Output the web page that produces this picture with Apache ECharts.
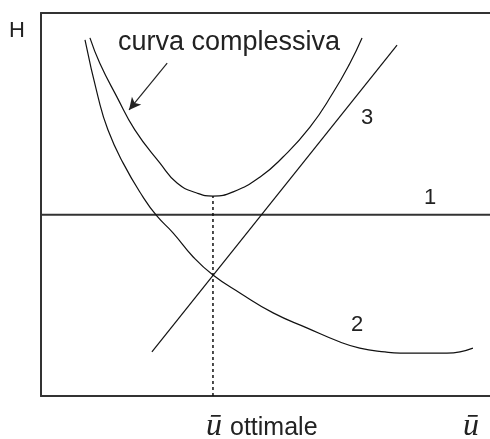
<!DOCTYPE html>
<html>
<head>
	<meta charset="utf-8" />
	<script src="https://cdn.jsdelivr.net/npm/echarts@6/dist/echarts.min.js"></script>
</head>
<body style="margin:0;background:#fff;">
	<div id="main" style="width: 490px;height:439px;"></div>

	<script type="text/javascript">
		// curva 2 (costo decrescente), in unita arbitrarie 0..100
		var curva2 = [[9.8, 93.0], [12.7, 78.1], [14.9, 69.5], [18.3, 60.8], [22.7, 52.0], [25.8, 47.0],
			[29.4, 42.6], [33.9, 36.3], [38.3, 31.6], [44.3, 26.9], [51.7, 21.7], [59.2, 17.8],
			[66.6, 14.1], [71.0, 12.5], [76.6, 11.5], [80.0, 11.2], [90.4, 11.2], [96.2, 12.5]];
		// curva complessiva (a U)
		var complessiva = [[10.9, 93.5], [13.1, 86.9], [16.9, 78.1], [20.9, 69.5], [26.5, 60.8],
			[30.3, 55.6], [34.7, 53.0], [38.3, 52.2], [42.8, 53.3], [48.8, 57.2], [53.9, 62.4],
			[59.9, 70.2], [65.0, 79.1], [68.8, 86.9], [71.5, 93.5]];
		// retta 3
		var retta3 = [[24.7, 11.5], [79.3, 91.6]];
		// retta 1 (costante)
		var retta1 = [[0, 47.3], [100, 47.3]];
		// ottimo
		var uOttimale = 38.3;
		var hOttimo = 52.2;
		// freccia "curva complessiva"
		var freccia = [[28.1, 86.9], [19.6, 74.7]];

		var myChart = echarts.init(document.getElementById('main'));

		var lineCol = '#111';
		var frameCol = '#333';

		var option = {
			animation: false,
			grid: { left: 41, right: 0, top: 13, bottom: 43 },
			xAxis: [
				{
					type: 'value', min: 0, max: 100,
					axisLine: { show: true, onZero: false, lineStyle: { color: frameCol, width: 2 } },
					axisTick: { show: false }, axisLabel: { show: false }, splitLine: { show: false }
				},
				{
					type: 'value', position: 'top', min: 0, max: 100,
					axisLine: { show: true, onZero: false, lineStyle: { color: frameCol, width: 2 } },
					axisTick: { show: false }, axisLabel: { show: false }, splitLine: { show: false }
				}
			],
			yAxis: {
				type: 'value', min: 0, max: 100,
				axisLine: { show: true, onZero: false, lineStyle: { color: frameCol, width: 2 } },
				axisTick: { show: false }, axisLabel: { show: false }, splitLine: { show: false }
			},
			series: [
				{
					type: 'line', data: retta1, symbol: 'none',
					lineStyle: { color: '#333', width: 2 }
				},
				{
					type: 'line', data: curva2, symbol: 'none', smooth: 0.5,
					lineStyle: { color: lineCol, width: 1.2 }
				},
				{
					type: 'line', data: complessiva, symbol: 'none', smooth: 0.5,
					lineStyle: { color: lineCol, width: 1.2 },
					markLine: {
						silent: true, animation: false,
						symbol: ['none', 'arrow'], symbolSize: [9, 12],
						label: { show: false },
						lineStyle: { color: '#222', width: 1.2, type: 'solid' },
						data: [[{ coord: freccia[0] }, { coord: freccia[1] }]]
					}
				},
				{
					type: 'line', data: retta3, symbol: 'none',
					lineStyle: { color: lineCol, width: 1.2 }
				},
				{
					type: 'line', data: [[uOttimale, 0], [uOttimale, hOttimo]], symbol: 'none',
					lineStyle: { color: lineCol, width: 1.5, type: [3, 3] }
				}
			],
			graphic: [
				{ type: 'text', x: 17, y: 31, style: { text: 'H', font: '22px "Liberation Sans", Arial', fill: '#222', align: 'center', verticalAlign: 'middle' } },
				{ type: 'text', x: 118, y: 43, style: { text: 'curva complessiva', font: '27px "Liberation Sans", Arial', fill: '#222', align: 'left', verticalAlign: 'middle' } },
				{ type: 'text', x: 367, y: 118, style: { text: '3', font: '22px "Liberation Sans", Arial', fill: '#222', align: 'center', verticalAlign: 'middle' } },
				{ type: 'text', x: 430, y: 198, style: { text: '1', font: '22px "Liberation Sans", Arial', fill: '#222', align: 'center', verticalAlign: 'middle' } },
				{ type: 'text', x: 357, y: 325, style: { text: '2', font: '22px "Liberation Sans", Arial', fill: '#222', align: 'center', verticalAlign: 'middle' } },
				{ type: 'text', x: 214, y: 427, style: { text: 'ū', font: 'italic 32px "Liberation Serif", serif', fill: '#222', align: 'center', verticalAlign: 'middle' } },
				{ type: 'text', x: 230, y: 428, style: { text: 'ottimale', font: '25px "Liberation Sans", Arial', fill: '#222', align: 'left', verticalAlign: 'middle' } },
				{ type: 'text', x: 471, y: 427, style: { text: 'ū', font: 'italic 32px "Liberation Serif", serif', fill: '#222', align: 'center', verticalAlign: 'middle' } }
			]
		};

		myChart.setOption(option);
	</script>
</body>
</html>
